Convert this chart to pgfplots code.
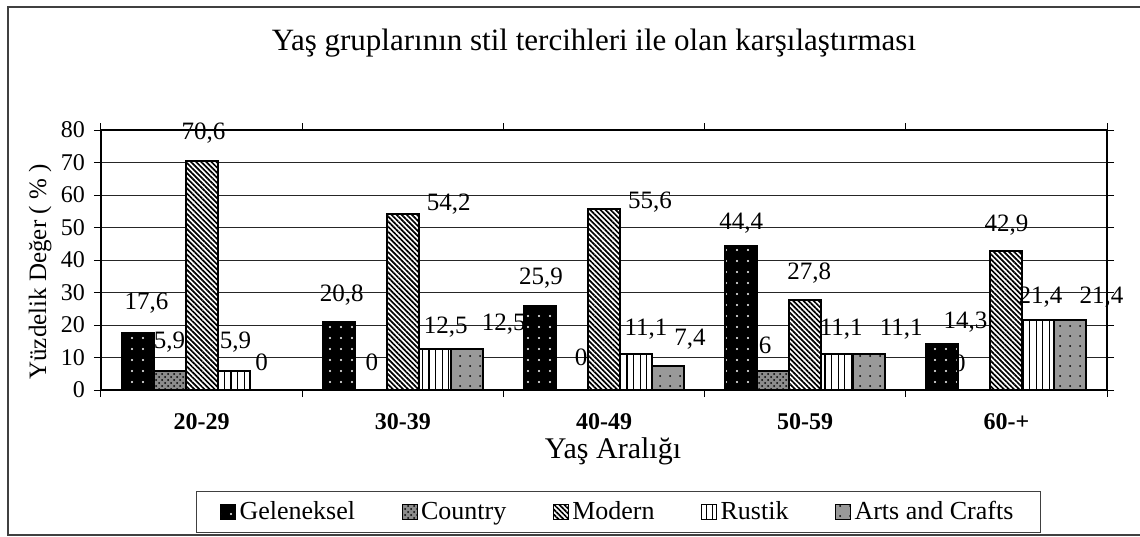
\documentclass[border=0pt]{standalone}
\usepackage{pgfplots}
\pgfplotsset{compat=1.18}
\usepackage{pgfplotstable}
\usetikzlibrary{patterns,patterns.meta}
\usepackage{fontspec}
\setmainfont{Liberation Serif}

\newcommand\fsTick{\fontsize{12pt}{14pt}\selectfont}
\newcommand\fsLab{\fontsize{12.5pt}{15pt}\selectfont}
\newcommand\fsX{\fontsize{15pt}{18pt}\selectfont}
\newcommand\fsT{\fontsize{15.5pt}{18pt}\selectfont}
\newcommand\fsL{\fontsize{13pt}{15pt}\selectfont}

% x = group, y = value, dx/dy = label offset from bar top (pt)
\pgfplotstableread{
x y dx dy
0 17.6 4.5 15
1 20.8 1.5 13.5
2 25.9 0.5 14
3 44.4 0 11.5
4 14.3 11.5 10.75
}\geleneksel
\pgfplotstableread{
x y dx dy
0 5.9 0 14.5
1 0 0.5 14
2 0 4.5 16.5
3 6 -4 12.5
4 0 -7.5 13.5
}\country
\pgfplotstableread{
x y dx dy
0 70.6 1 13.5
1 54.2 23 5
2 55.6 23 3.5
3 27.8 2 13.5
4 42.9 0 12.5
}\modern
\pgfplotstableread{
x y dx dy
0 5.9 1 14.5
1 12.5 5.5 11
2 11.1 5 12.5
3 11.1 2 12.5
4 21.4 1 11.5
}\rustik
\pgfplotstableread{
x y dx dy
0 0 -2 14
1 12.5 18.5 12.5
2 7.4 11 13.5
3 11.1 16 12.5
4 21.4 15.5 11.5
}\arts

\begin{document}
\begin{tikzpicture}
\useasboundingbox (-50.5pt,-73pt) rectangle (519.5pt,195pt);
\draw[black!75, line width=0.8pt] (-46.5pt,-72.5pt) rectangle (540pt,191.5pt);
\begin{axis}[
    lab/.style={
        visualization depends on={\thisrow{dx}\as\labdx},
        visualization depends on={\thisrow{dy}\as\labdy},
        nodes near coords,
        every node near coord/.append style={anchor=center, xshift=\labdx, yshift=\labdy,
            font=\fsLab, inner sep=0pt,
            /pgf/number format/.cd, fixed, precision=1, use comma, assume math mode=true},
    },
    scale only axis,
    width=503pt, height=130pt,
    ybar=0pt, bar width=16pt,
    xmin=-0.5, xmax=4.5,
    ymin=0, ymax=80,
    ytick={0,10,...,80},
    yticklabel style={font=\fsTick, /pgf/number format/assume math mode=true, xshift=-1pt},
    xtick={-0.5,0.5,...,4.5},
    xticklabels={},
    extra x ticks={0,1,2,3,4},
    extra x tick labels={20-29,30-39,40-49,50-59,60-+},
    extra x tick style={major tick length=0pt, tick style={draw=none},
        xticklabel style={font=\fsTick\bfseries, yshift=-8pt}},
    tick align=outside,
    major tick length=3.5pt,
    tick style={black, line width=0.5pt},
    ymajorgrids,
    grid style={black!85, line width=0.5pt},
    axis line style={line width=1.2pt},
    title={Yaş gruplarının stil tercihleri ile olan karşılaştırması},
    title style={font=\fsT, at={(axis description cs:0.49,1.288)}, anchor=center},
    xlabel={Yaş Aralığı},
    xlabel style={font=\fsX, at={(axis description cs:0.509,-0.235)}, anchor=center},
    ylabel={Yüzdelik Değer ( \% )},
    ylabel style={font=\fsLab, at={(axis description cs:-0.0606,0.454)}, anchor=center},
    legend columns=5,
    legend style={draw=black!75, line width=0.5pt, font=\rmfamily\fsL,
        at={(axis description cs:0.5144,-0.3885)}, anchor=north,
        inner xsep=11.75pt, inner ysep=3pt,
        nodes={inner xsep=1.75pt, inner ysep=2pt},
        /tikz/every even column/.append style={column sep=21.5pt}},
    legend image code/.code={\draw[#1, line width=0.5pt] (0pt,-3.75pt) rectangle (7.5pt,3.75pt);},
    every axis plot/.append style={draw=black, line width=1pt},
]
\addplot[lab, fill=black, postaction={pattern={Dots[distance=5.5pt, radius=0.55pt]}, pattern color=white}]
    table[x=x, y=y] {\geleneksel};
\addplot[lab, fill=black!45, postaction={pattern=crosshatch dots, pattern color=black}]
    table[x=x, y=y] {\country};
\addplot[lab, fill=white, postaction={pattern={Lines[angle=-45, distance=1.8pt, line width=0.85pt]}, pattern color=black}]
    table[x=x, y=y] {\modern};
\addplot[lab, fill=white, postaction={pattern={Lines[angle=90, distance=3.3pt, line width=0.6pt]}, pattern color=black}]
    table[x=x, y=y] {\rustik};
\addplot[lab, fill=black!40, postaction={pattern={Dots[distance=5pt, radius=0.5pt]}, pattern color=black}]
    table[x=x, y=y] {\arts};
\legend{Geleneksel, Country, Modern, Rustik, Arts and Crafts}
\end{axis}
\end{tikzpicture}
\end{document}
